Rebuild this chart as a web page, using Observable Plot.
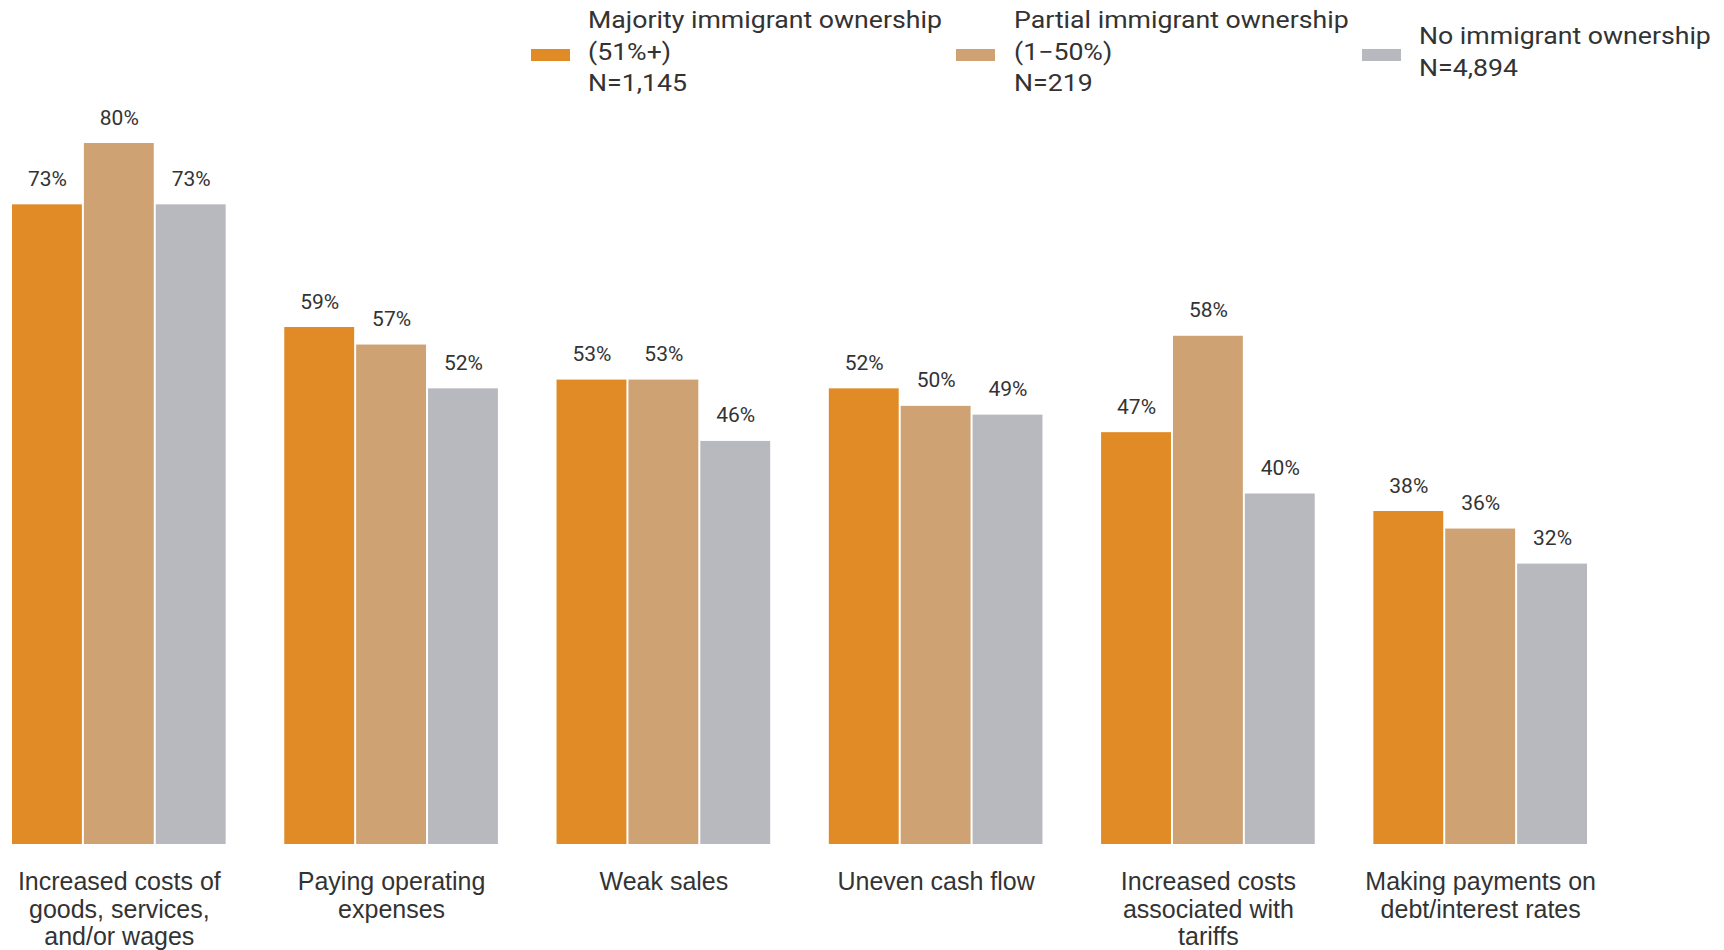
<!DOCTYPE html>
<html>
<head>
<meta charset="utf-8">
<script src="https://cdn.jsdelivr.net/npm/d3@7"></script>
<script src="https://cdn.jsdelivr.net/npm/@observablehq/plot@0.6"></script>
<style>
  html, body { margin: 0; padding: 0; background: #fff; }
  #wrap { width: 1724px; height: 950px; position: relative; overflow: hidden; }
  #legend { position: relative; width: 1724px; height: 100px; font-family: Roboto, sans-serif; color: #333; }
  .item .sw { position: absolute; width: 39px; height: 12px; top: 49px; }
  .item .tx { position: absolute; font-size: 23px; line-height: 31.5px; white-space: nowrap; transform: scaleX(1.16); transform-origin: left top; }
  #chart svg { display: block; }
</style>
</head>
<body>
<div id="wrap">
  <div id="legend"></div>
  <div id="chart"></div>
</div>
<script>
// ---- data ----
const categories = [
  "Increased costs of goods, services, and/or wages",
  "Paying operating expenses",
  "Weak sales",
  "Uneven cash flow",
  "Increased costs associated with tariffs",
  "Making payments on debt/interest rates"
];
const tickLabels = [
  "Increased costs of\ngoods, services,\nand/or wages",
  "Paying operating\nexpenses",
  "Weak sales",
  "Uneven cash flow",
  "Increased costs\nassociated with\ntariffs",
  "Making payments on\ndebt/interest rates"
];
const series = ["Majority immigrant ownership", "Partial immigrant ownership", "No immigrant ownership"];
const legendLabels = [
  ["Majority immigrant ownership", "(51%+)", "N=1,145"],
  ["Partial immigrant ownership", "(1\u221250%)", "N=219"],
  ["No immigrant ownership", "N=4,894"]
];
const majorityValues = [73, 59, 53, 52, 47, 38];
const partialValues  = [80, 57, 53, 50, 58, 36];
const noneValues     = [73, 52, 46, 49, 40, 32];
const colors = ["#E18B26", "#CFA274", "#B8B9BE"];

// ---- tidy table ----
const valueSets = [majorityValues, partialValues, noneValues];
const data = [];
categories.forEach((c, i) => {
  series.forEach((s, j) => data.push({category: c, series: s, value: valueSets[j][i]}));
});

// ---- legend ----
const legendPos = [
  {sw: 531, tx: 588, top: 5},
  {sw: 956, tx: 1014, top: 5},
  {sw: 1362, tx: 1419, top: 21}
];
const legend = document.getElementById("legend");
series.forEach((s, j) => {
  const item = document.createElement("div");
  item.className = "item";
  const sw = document.createElement("div");
  sw.className = "sw";
  sw.style.left = legendPos[j].sw + "px";
  sw.style.background = colors[j];
  const tx = document.createElement("div");
  tx.className = "tx";
  tx.style.left = legendPos[j].tx + "px";
  tx.style.top = legendPos[j].top + "px";
  tx.innerHTML = legendLabels[j].join("<br>");
  item.appendChild(sw);
  item.appendChild(tx);
  legend.appendChild(item);
});

// ---- chart ----
const chart = Plot.plot({
  width: 1724,
  height: 850,
  marginTop: 43,
  marginBottom: 106,
  marginLeft: 11,
  marginRight: 136,
  style: {fontFamily: "Roboto, sans-serif", background: "white"},
  fx: {domain: categories, paddingInner: 0.208, paddingOuter: 0, round: false, label: null},
  x: {domain: series, padding: 0, round: false, axis: null},
  y: {domain: [0, 80], axis: null},
  color: {domain: series, range: colors},
  marks: [
    Plot.barY(data, {fx: "category", x: "series", y: "value", fill: "series", insetLeft: 1, insetRight: 1}),
    Plot.text(data, {
      fx: "category", x: "series", y: "value",
      text: d => d.value + "%",
      lineAnchor: "bottom", dy: -19,
      fontSize: 21, fontFamily: "Roboto", fill: "#333"
    }),
    Plot.axisFx({
      anchor: "bottom",
      tickSize: 0,
      tickPadding: 26,
      fontSize: 25,
      fontFamily: "Liberation Sans",
      fill: "#333",
      lineHeight: 1.1,
      label: null,
      tickFormat: d => tickLabels[categories.indexOf(d)]
    })
  ]
});
document.getElementById("chart").appendChild(chart);
</script>
</body>
</html>
